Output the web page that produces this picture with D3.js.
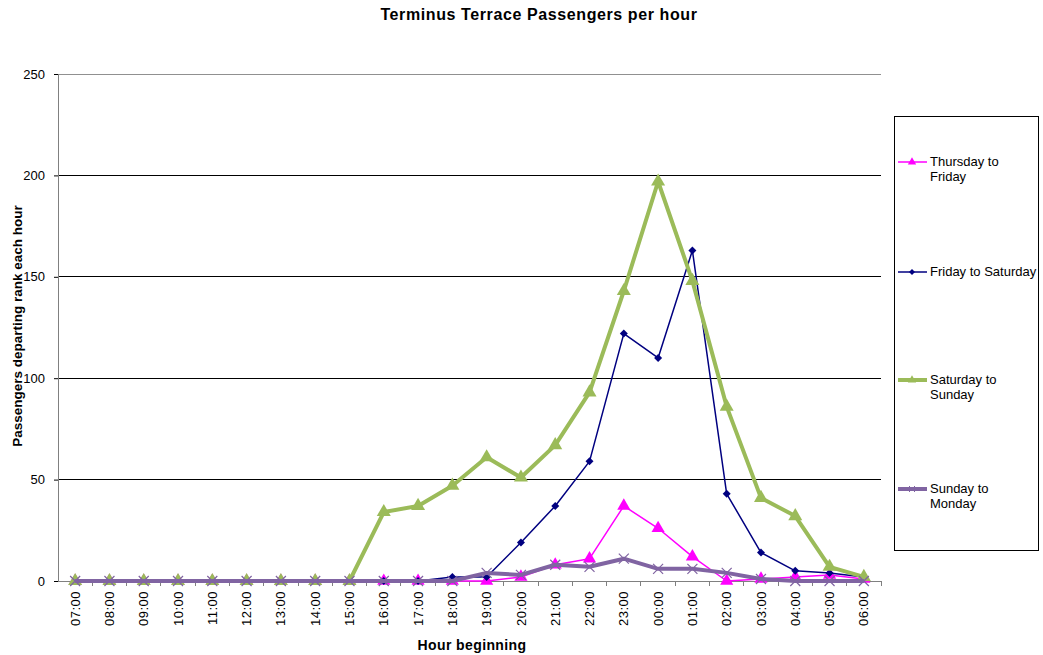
<!DOCTYPE html>
<html><head><meta charset="utf-8">
<script src="https://cdn.jsdelivr.net/npm/d3@7"></script>
<style>body{margin:0;background:#fff;} text{font-family:"Liberation Sans",Arial,sans-serif;}</style>
</head><body>
<svg id="c" width="1043" height="655"></svg>
<script>
const hours = ["07:00","08:00","09:00","10:00","11:00","12:00","13:00","14:00","15:00","16:00","17:00","18:00","19:00","20:00","21:00","22:00","23:00","00:00","01:00","02:00","03:00","04:00","05:00","06:00"];
const thuFri = [0,0,0,0,0,0,0,0,0,0,0,0,0,2,8,11,37,26,12,0,1,2,3,1];
const friSat = [0,0,0,0,0,0,0,0,0,0,0,2,2,19,37,59,122,110,163,43,14,5,4,2];
const satSun = [0,0,0,0,0,0,0,0,0,34,37,47,61,51,67,93,143,197,148,86,41,32,7,2];
const sunMon = [0,0,0,0,0,0,0,0,0,0,0,0,4,3,8,7,11,6,6,4,1,0,0,0];
const yTicks = [0,50,100,150,200,250];
const seriesNames = ["Thursday to Friday","Friday to Saturday","Saturday to Sunday","Sunday to Monday"];

const series = [
  {name:seriesNames[0], values:thuFri, color:"#FF00FF", width:1.5, marker:"tri", msize:75},
  {name:seriesNames[1], values:friSat, color:"#000080", width:1.5, marker:"dia", msize:30},
  {name:seriesNames[2], values:satSun, color:"#9BBB59", width:4, marker:"tri", msize:85},
  {name:seriesNames[3], values:sunMon, color:"#8064A2", width:4, marker:"x", msize:0}
];

const svg = d3.select("#c");
const L=58, R=881, T=74, B=581;
const x = d3.scaleBand().domain(hours).range([L,R]);
const y = d3.scaleLinear().domain([0,250]).range([B,T]);

// gridlines
svg.append("g").selectAll("line").data(yTicks.filter(d=>d>0)).join("line")
  .attr("x1",L).attr("x2",R).attr("y1",d=>y(d)).attr("y2",d=>y(d))
  .attr("stroke",d=>d===250?"#909090":"#000").attr("stroke-width",1).attr("shape-rendering","crispEdges");

// y axis
const ya = svg.append("g").attr("transform",`translate(${L},0)`)
  .call(d3.axisLeft(y).tickValues(yTicks).tickSize(4).tickPadding(9));
ya.select(".domain").attr("stroke","#808080").attr("shape-rendering","crispEdges");
ya.selectAll(".tick line").attr("stroke","#000");
ya.selectAll("text").style("font-size","13px").attr("font-family","Liberation Sans, Arial");

// x axis
const xa = svg.append("g").attr("transform",`translate(0,${B})`)
  .call(d3.axisBottom(x).tickSize(0).tickSizeOuter(0));
xa.select(".domain").attr("stroke","#808080").attr("shape-rendering","crispEdges");
xa.selectAll("text").style("font-size","13px").style("letter-spacing","0.5px").attr("font-family","Liberation Sans, Arial")
  .attr("transform","rotate(-90)").attr("text-anchor","end")
  .attr("dx","-10px").attr("dy","0.35em").attr("x",0).attr("y",0);
// boundary ticks
svg.append("g").selectAll("line").data(hours.slice(1).concat(["__end"])).join("line")
  .attr("x1",(d,i)=> i<hours.length-1 ? x(d) : R)
  .attr("x2",(d,i)=> i<hours.length-1 ? x(d) : R)
  .attr("y1",B).attr("y2",B+5).attr("stroke","#808080").attr("shape-rendering","crispEdges");

const cx = h => x(h)+x.bandwidth()/2;
const line = d3.line().x((d,i)=>cx(hours[i])).y(d=>y(d));

function drawMarker(g, s, px, py){
  if(s.marker==="tri"){
    g.append("path").attr("d",d3.symbol(d3.symbolTriangle,s.msize)()).attr("transform",`translate(${px},${py})`).attr("fill",s.color);
  } else if(s.marker==="dia"){
    g.append("path").attr("d","M0,-4L4,0L0,4L-4,0Z").attr("transform",`translate(${px},${py})`).attr("fill",s.color);
  } else {
    g.append("path").attr("d","M-5,-5L5,5M-5,5L5,-5").attr("transform",`translate(${px},${py})`).attr("stroke",s.color).attr("stroke-width",1.2).attr("fill","none");
  }
}

series.forEach(s=>{
  const g = svg.append("g");
  g.append("path").datum(s.values).attr("d",line).attr("fill","none").attr("stroke",s.color).attr("stroke-width",s.width).attr("stroke-linejoin","round");
  s.values.forEach((v,i)=>drawMarker(g,s,cx(hours[i]),y(v)));
});

// title
svg.append("text").attr("x",539).attr("y",20).attr("text-anchor","middle").style("font-size","16px").style("letter-spacing","0.6px").style("font-weight","bold").text("Terminus Terrace Passengers per hour");
svg.append("text").attr("x",472).attr("y",650).attr("text-anchor","middle").style("font-size","14px").style("letter-spacing","0.4px").style("font-weight","bold").text("Hour beginning");
svg.append("text").attr("transform","translate(22,326) rotate(-90)").attr("text-anchor","middle").style("font-size","13.5px").style("font-weight","bold").text("Passengers departing rank each hour");

// legend
const lg = svg.append("g");
lg.append("rect").attr("x",894.5).attr("y",116.5).attr("width",144).attr("height",434).attr("fill","#fff").attr("stroke","#000").attr("stroke-width",1);
const legY = [162,272,380,489];
const legLines = [["Thursday to","Friday"],["Friday to Saturday"],["Saturday to","Sunday"],["Sunday to","Monday"]];
series.forEach((s,i)=>{
  const ly = legY[i];
  lg.append("line").attr("x1",898).attr("x2",927).attr("y1",ly).attr("y2",ly).attr("stroke",s.color).attr("stroke-width",s.width);
  const ms = Object.assign({},s,{msize:s.marker==="tri"?30:s.msize});
  if(s.marker==="x"){
    lg.append("path").attr("d","M-3,-3L3,3M-3,3L3,-3").attr("transform",`translate(912,${ly})`).attr("stroke",s.color).attr("stroke-width",1).attr("fill","none");
  } else if(s.marker==="dia"){
    lg.append("path").attr("d","M0,-3L3,0L0,3L-3,0Z").attr("transform",`translate(912,${ly})`).attr("fill",s.color);
  } else drawMarker(lg,ms,912,ly);
  const t = lg.append("text").attr("x",930).attr("y",ly+4).style("font-size","13px");
  legLines[i].forEach((ln,j)=>t.append("tspan").attr("x",930).attr("dy",j===0?0:15).text(ln));
});
</script>
</body></html>
